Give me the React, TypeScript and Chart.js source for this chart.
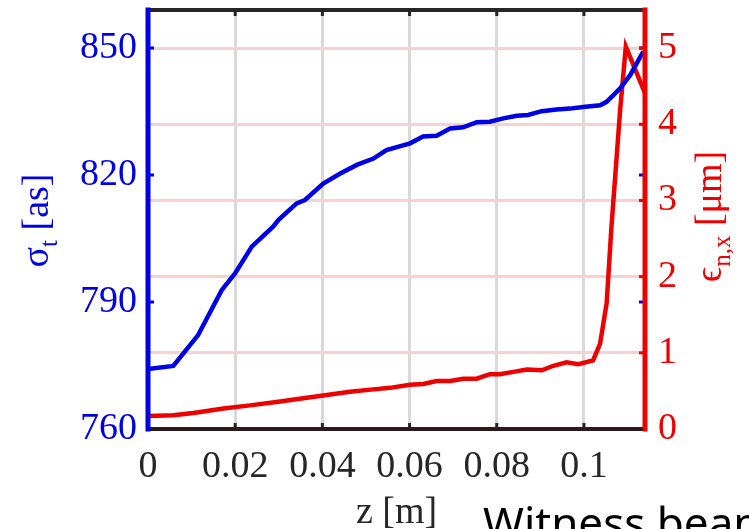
import React, { useEffect, useRef } from "react";
import { Chart, registerables } from "chart.js";

Chart.register(...registerables);

// ---- data ----
const zSigma = [0, 0.0058, 0.0115, 0.0169, 0.02, 0.0238, 0.0287, 0.03, 0.0341, 0.036, 0.0402, 0.044, 0.0479, 0.0517, 0.0547, 0.0601, 0.0631, 0.0662, 0.0693, 0.0723, 0.0754, 0.0784, 0.0815, 0.0846, 0.0872, 0.0903, 0.0937, 0.0968, 0.0998, 0.1037, 0.1052, 0.1083, 0.1106, 0.1136];
const sigmaT = [774.2, 774.9, 782.2, 792.8, 796.8, 803.1, 807.8, 809.5, 813.3, 814.1, 818.0, 820.3, 822.4, 823.9, 825.9, 827.5, 829.1, 829.3, 831.0, 831.3, 832.5, 832.6, 833.4, 834.0, 834.2, 835.1, 835.5, 835.7, 836.1, 836.5, 837.3, 840.5, 843.6, 849.2];

const zEmit = [0, 0.0058, 0.0104, 0.0173, 0.0234, 0.0303, 0.0364, 0.0402, 0.0463, 0.0517, 0.0555, 0.0601, 0.0631, 0.0662, 0.0693, 0.0723, 0.0754, 0.0784, 0.0807, 0.0838, 0.0869, 0.0903, 0.093, 0.096, 0.0987, 0.1021, 0.1037, 0.1052, 0.1063, 0.1083, 0.1096, 0.114];
const emitNX = [0.17, 0.18, 0.21, 0.27, 0.31, 0.36, 0.41, 0.44, 0.49, 0.52, 0.54, 0.58, 0.59, 0.63, 0.63, 0.66, 0.66, 0.72, 0.72, 0.75, 0.78, 0.77, 0.83, 0.875, 0.85, 0.9, 1.12, 1.65, 2.65, 4.19, 5.02, 4.41];

const xTicks = [0, 0.02, 0.04, 0.06, 0.08, 0.1];
const xTickLabels = ["0", "0.02", "0.04", "0.06", "0.08", "0.1"];
const leftTicks = [760, 790, 820, 850];
const rightTicks = [0, 1, 2, 3, 4, 5];

const X_MIN = 0, X_MAX = 0.114;
const L_MIN = 760, L_MAX = 859;
const R_MIN = 0, R_MAX = 5.5;

const BLUE = "#0000e6";
const RED = "#ee0000";
const DARK = "#262626";
const SERIF = "'Liberation Serif', 'DejaVu Serif', serif";

function zeroPad(s: any) {
  s.paddingTop = 0;
  s.paddingBottom = 0;
  s.paddingLeft = 0;
  s.paddingRight = 0;
}

function drawRotLabel(ctx: CanvasRenderingContext2D, baseX: number, cy: number, parts: [string, boolean][], color: string) {
  const mainFont = `38px ${SERIF}`;
  const subFont = `25px ${SERIF}`;
  let total = 0;
  for (const [t, sub] of parts) {
    ctx.font = sub ? subFont : mainFont;
    total += ctx.measureText(t).width;
  }
  ctx.save();
  ctx.translate(baseX, cy);
  ctx.rotate(-Math.PI / 2);
  ctx.fillStyle = color;
  ctx.textBaseline = "alphabetic";
  ctx.textAlign = "left";
  let x = -total / 2;
  for (const [t, sub] of parts) {
    ctx.font = sub ? subFont : mainFont;
    ctx.fillText(t, x, sub ? 9 : 0);
    x += ctx.measureText(t).width;
  }
  ctx.restore();
}

const framePlugin = {
  id: "frame",
  afterDatasetsDraw(chart: any) {
    const { ctx, chartArea: a, scales } = chart;
    const xs = scales.x, yl = scales.y, yr = scales.y1;
    ctx.save();
    const tl = 6;
    ctx.lineWidth = 3;
    ctx.strokeStyle = DARK;
    for (const v of xTicks) {
      const px = xs.getPixelForValue(v);
      ctx.beginPath();
      ctx.moveTo(px, a.bottom); ctx.lineTo(px, a.bottom - tl);
      ctx.moveTo(px, a.top); ctx.lineTo(px, a.top + tl);
      ctx.stroke();
    }
    ctx.strokeStyle = BLUE;
    for (const v of leftTicks) {
      const py = yl.getPixelForValue(v);
      ctx.beginPath();
      ctx.moveTo(a.left, py); ctx.lineTo(a.left + tl, py);
      ctx.moveTo(a.right, py); ctx.lineTo(a.right - tl, py);
      ctx.stroke();
    }
    ctx.strokeStyle = RED;
    for (const v of rightTicks) {
      const py = yr.getPixelForValue(v);
      ctx.beginPath();
      ctx.moveTo(a.right, py); ctx.lineTo(a.right - tl, py);
      ctx.stroke();
    }
    ctx.lineCap = "square";
    ctx.lineWidth = 4;
    ctx.strokeStyle = DARK;
    ctx.beginPath(); ctx.moveTo(a.left, a.top); ctx.lineTo(a.right, a.top); ctx.stroke();
    ctx.strokeStyle = "#2a1a1a";
    ctx.beginPath(); ctx.moveTo(a.left, a.bottom); ctx.lineTo(a.right, a.bottom); ctx.stroke();
    ctx.lineWidth = 5;
    ctx.strokeStyle = BLUE;
    ctx.beginPath(); ctx.moveTo(a.left, a.top); ctx.lineTo(a.left, a.bottom); ctx.stroke();
    ctx.strokeStyle = RED;
    ctx.beginPath(); ctx.moveTo(a.right, a.top); ctx.lineTo(a.right, a.bottom); ctx.stroke();
    ctx.restore();
  },
  afterDraw(chart: any) {
    const { ctx, chartArea: a } = chart;
    const cy = (a.top + a.bottom) / 2;
    drawRotLabel(ctx, 48, cy + 1, [["σ", false], ["t", true], [" [as]", false]], BLUE);
    drawRotLabel(ctx, 721, cy - 3, [["ϵ", false], ["n,x", true], [" [μm]", false]], RED);
    ctx.save();
    ctx.fillStyle = DARK;
    ctx.font = `38px ${SERIF}`;
    ctx.textAlign = "center";
    ctx.textBaseline = "alphabetic";
    ctx.fillText("z [m]", (a.left + a.right) / 2, 523);
    ctx.fillStyle = "#000000";
    ctx.font = "44px 'Noto Sans', 'DejaVu Sans', sans-serif";
    ctx.textAlign = "left";
    ctx.fillText("Witness beam", 483, 539);
    ctx.restore();
  },
};

export default function App() {
  const ref = useRef<HTMLCanvasElement | null>(null);
  useEffect(() => {
    if (!ref.current) return;
    const chart = new Chart(ref.current, {
      type: "line",
      data: {
        datasets: [
          {
            label: "sigma_t",
            data: zSigma.map((z, i) => ({ x: z, y: sigmaT[i] })),
            yAxisID: "y",
            borderColor: BLUE,
            borderWidth: 4.5,
            pointRadius: 0,
            tension: 0,
            fill: false,
          },
          {
            label: "eps_nx",
            data: zEmit.map((z, i) => ({ x: z, y: emitNX[i] })),
            yAxisID: "y1",
            borderColor: RED,
            borderWidth: 4.5,
            pointRadius: 0,
            tension: 0,
            fill: false,
          },
        ],
      },
      options: {
        animation: false,
        responsive: false,
        devicePixelRatio: 1,
        layout: { padding: { top: 10, left: 0, right: 0, bottom: 0 } },
        plugins: { legend: { display: false }, tooltip: { enabled: false } },
        scales: {
          x: {
            type: "linear",
            min: X_MIN,
            max: X_MAX,
            afterBuildTicks: (s: any) => { s.ticks = xTicks.map((v) => ({ value: v })); },
            afterFit: (s: any) => { s.height = 100; zeroPad(s); },
            border: { display: false },
            grid: { color: "#d9d9d9", lineWidth: 3, drawTicks: false },
            ticks: {
              padding: 15,
              color: DARK,
              maxRotation: 0,
              autoSkip: false,
              font: { family: SERIF, size: 38 },
              callback: (v: any) => { const i = xTicks.indexOf(Number(v)); return i >= 0 ? xTickLabels[i] : ""; },
            },
          },
          y: {
            type: "linear",
            position: "left",
            min: L_MIN,
            max: L_MAX,
            afterBuildTicks: (s: any) => { s.ticks = leftTicks.map((v) => ({ value: v })); },
            afterFit: (s: any) => { s.width = 148; zeroPad(s); },
            border: { display: false },
            grid: { display: false, drawTicks: false },
            ticks: { padding: 11, color: BLUE, autoSkip: false, font: { family: SERIF, size: 38 } },
          },
          y1: {
            type: "linear",
            position: "right",
            min: R_MIN,
            max: R_MAX,
            afterBuildTicks: (s: any) => { s.ticks = rightTicks.map((v) => ({ value: v })); },
            afterFit: (s: any) => { s.width = 104; zeroPad(s); },
            border: { display: false },
            grid: { color: "#f7d0d0", lineWidth: 3, drawTicks: false, drawOnChartArea: true },
            ticks: { padding: 13, color: RED, autoSkip: false, font: { family: SERIF, size: 38 } },
          },
        },
      },
      plugins: [framePlugin],
    } as any);
    return () => chart.destroy();
  }, []);
  return (
    <div style={{ position: "absolute", left: 0, top: 0, width: 749, height: 529, background: "#ffffff" }}>
      <canvas ref={ref} width={749} height={529} style={{ display: "block", width: 749, height: 529 }} />
    </div>
  );
}
